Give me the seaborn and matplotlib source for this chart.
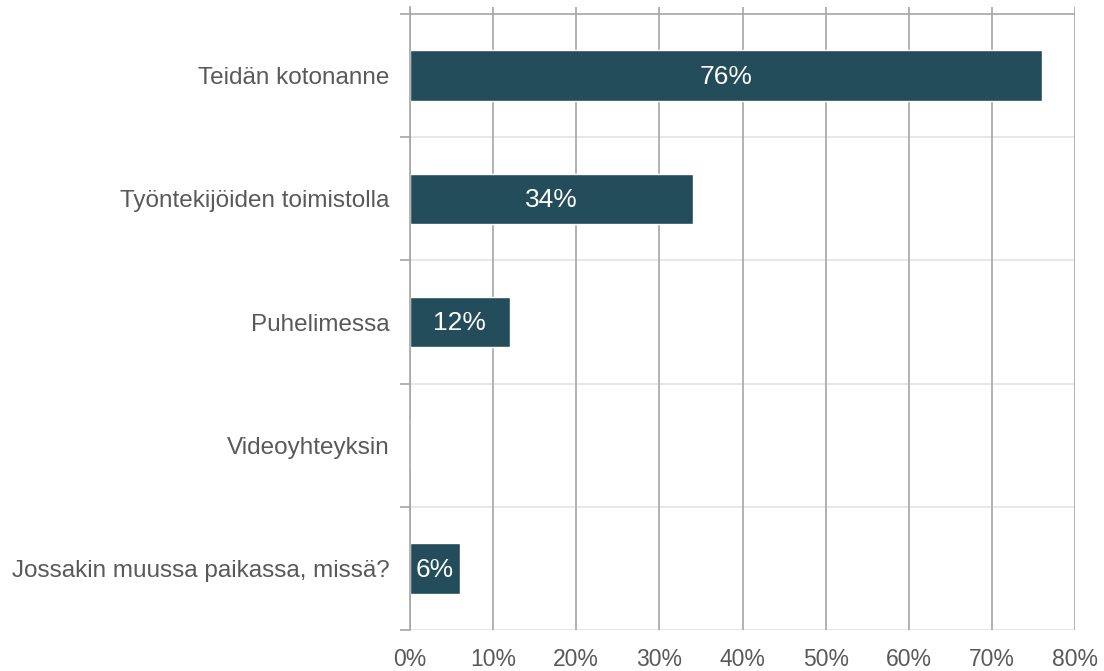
import matplotlib
matplotlib.use("Agg")
import matplotlib.pyplot as plt
from matplotlib.ticker import FixedLocator
import seaborn as sns
import pandas as pd

categories = ["Teidän kotonanne", "Työntekijöiden toimistolla", "Puhelimessa",
              "Videoyhteyksin", "Jossakin muussa paikassa, missä?"]
values = [76, 34, 12, 0, 6]
xticks = [0, 10, 20, 30, 40, 50, 60, 70, 80]
xticklabels = ["0%", "10%", "20%", "30%", "40%", "50%", "60%", "70%", "80%"]

df = pd.DataFrame({"category": categories, "value": values})

sns.set_theme(style="white")
plt.rcParams["font.family"] = ["Liberation Sans", "DejaVu Sans"]

fig = plt.figure(figsize=(11.04, 6.71), dpi=100)
ax = fig.add_axes([410 / 1104, 1 - 630 / 671, (1075 - 410) / 1104, (630 - 7) / 671])

bar_color = "#234D5A"
sns.barplot(data=df, y="category", x="value", orient="h", color=bar_color,
            width=0.41, ax=ax, saturation=1, zorder=3)

ax.set_xlim(0, 80)
ext = 7 / 123
ax.set_ylim(4.5, -0.5 - ext)

# gridlines
ax.set_xticks(xticks)
ax.set_xticklabels(xticklabels)
ax.grid(axis="x", color="#A6A6A6", linewidth=1.2, zorder=0)
ax.set_axisbelow(True)
ax.axhline(-0.5, color="#A6A6A6", linewidth=1.2, zorder=1)
for b in [0.5, 1.5, 2.5, 3.5, 4.5]:
    ax.axhline(b, color="#E3E3E3", linewidth=1.2, zorder=0.5)

for s in ["top", "right", "bottom"]:
    ax.spines[s].set_visible(False)
ax.spines["left"].set_color("#A6A6A6")
ax.spines["left"].set_linewidth(1.2)
ax.spines["left"].set_zorder(4)

ax.yaxis.set_minor_locator(FixedLocator([-0.5, 0.5, 1.5, 2.5, 3.5, 4.5]))
ax.tick_params(axis="y", which="minor", length=7, width=1.2, color="#A6A6A6",
               left=True, direction="out")
ax.tick_params(axis="y", which="major", length=0, pad=15, labelsize=17.5,
               labelcolor="#595959")
ax.tick_params(axis="x", which="major", length=0, pad=13, labelsize=16.5,
               labelcolor="#595959")
ax.set_xlabel("")
ax.set_ylabel("")

for i, v in enumerate(values):
    if v > 0:
        ax.text(v / 2, i + 0.01, f"{v}%", ha="center", va="center", color="white",
                fontsize=19, zorder=5)

fig.savefig("out.png", dpi=100)
